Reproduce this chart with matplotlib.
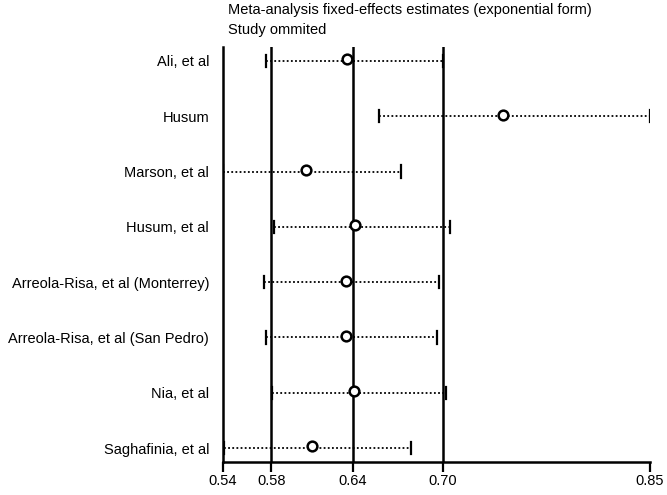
import matplotlib
matplotlib.use("Agg")
import matplotlib.pyplot as plt

plt.rcParams['font.family'] = ['Liberation Sans', 'DejaVu Sans']

# Study omitted -> pooled estimate with CI
studies = ["Ali, et al", "Husum", "Marson, et al", "Husum, et al",
           "Arreola-Risa, et al (Monterrey)", "Arreola-Risa, et al (San Pedro)",
           "Nia, et al", "Saghafinia, et al"]
estimate = [0.6345, 0.7480, 0.6049, 0.6406, 0.6340, 0.6340, 0.6396, 0.6090]
lower = [0.5756, 0.6575, 0.5445, 0.5816, 0.5746, 0.5756, 0.5804, 0.5455]
upper = [0.7039, 0.8545, 0.6735, 0.7090, 0.7012, 0.7000, 0.7063, 0.6810]

# full pooled estimate: lower CI, estimate, upper CI
ref_lines = [0.5795, 0.6386, 0.7039]
axis_min, axis_max = 0.5445, 0.8545
tick_vals = [0.5445, 0.5795, 0.6386, 0.7039, 0.8545]
tick_labels = ["0.54", "0.58", "0.64", "0.70", "0.85"]

fig = plt.figure(figsize=(6.67, 4.95), dpi=100)
ax = fig.add_axes([0.3343, 0.0667, 0.6402, 0.8383])

ypos = list(range(1, len(studies) + 1))

for xv in ref_lines:
    ax.axvline(xv, color='black', lw=1.8, zorder=1)

for y, lo, hi, est in zip(ypos, lower, upper, estimate):
    ax.plot([lo, hi], [y, y], color='black', lw=1.3, linestyle=(0, (1, 1.3)), zorder=2)
    ax.plot([lo, lo], [y - 0.11, y + 0.11], color='black', lw=1.6, zorder=2)
    ax.plot([hi, hi], [y - 0.11, y + 0.11], color='black', lw=1.6, zorder=2)
    ax.plot(est, y - 0.03, marker='o', markersize=7, markerfacecolor='white',
            markeredgecolor='black', markeredgewidth=1.8, zorder=3)

ax.set_xlim(axis_min, axis_max)
ax.set_ylim(len(studies) + 0.25, 0.75)
ax.set_xticks(tick_vals)
ax.set_xticklabels(tick_labels, fontsize=10.5)
ax.set_yticks(ypos)
ax.set_yticklabels(studies, fontsize=10.5)
ax.tick_params(axis='y', length=0, pad=10)
ax.tick_params(axis='x', length=7, width=1.6, pad=2)

ax.spines['top'].set_visible(False)
ax.spines['right'].set_visible(False)
ax.spines['left'].set_linewidth(1.8)
ax.spines['bottom'].set_linewidth(1.8)

fig.text(228 / 667, 1 - 10 / 495, "Meta-analysis fixed-effects estimates (exponential form)",
         fontsize=10.5, ha='left', va='center')
fig.text(228 / 667, 1 - 30 / 495, "Study ommited", fontsize=10.5, ha='left', va='center')

fig.savefig("out.png", dpi=100)
